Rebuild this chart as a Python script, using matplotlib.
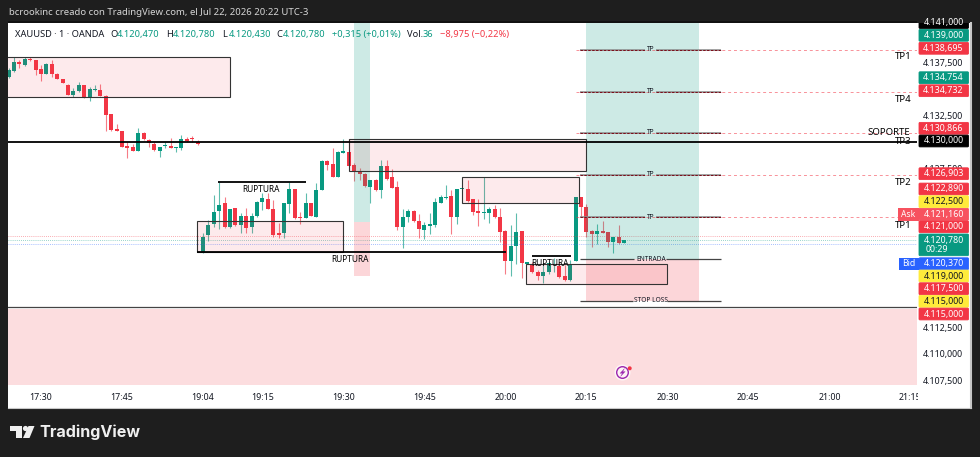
import matplotlib
matplotlib.use("Agg")
import matplotlib.pyplot as plt
from matplotlib.patches import Rectangle, Circle, Polygon, FancyBboxPatch
from matplotlib.ticker import FuncFormatter

plt.rcParams['font.family'] = ['Noto Sans', 'DejaVu Sans']

GREEN = '#089981'
RED = '#f23645'
DARK = '#1e1e1e'
INK = '#131722'

# 1 minute candles, prices quoted relative to the 4130 level
base_price = 4130.0
first_bar = -6
opens = [6.10, 6.73, 7.52, 7.26, 7.80, 7.70, 6.86, 6.45, 7.36, 6.45, 5.91, 5.41, 4.47, 4.78, 5.35, 4.21, 4.91, 4.91,
         4.37, 2.61, 1.19, 1.04, -0.38, -0.50, -0.82, 0.82, 0.22, -0.19, -0.82, -0.38, -0.38, -0.57, -0.53, 0.28, 0.28, 0.03,
         -10.44, -8.81, -7.77, -6.48, -5.79, -8.02, -6.26, -7.83, -6.98, -8.02, -6.98, -5.63, -5.41, -6.32, -8.62, -8.55,
         -5.85, -4.43, -7.04, -7.17, -5.75, -7.04, -4.53, -1.76, -2.08, -3.27, -1.01, -0.97, -2.17, -2.86, -2.99, -4.21,
         -3.58, -4.50, -2.23, -3.30, -4.28, -7.99, -7.11, -6.51, -7.48, -8.30, -7.89, -7.83, -5.72, -5.28, -5.06, -7.11,
         -4.47, -4.43, -5.41, -6.51, -6.73, -6.73, -6.32, -7.11, -8.40, -11.19, -9.81, -8.43, -11.54, -11.54, -12.30,
         -12.64, -12.30, -11.60, -11.70, -12.64, -13.02, -11.19, -5.22, -6.16, -8.40, -8.71, -8.40, -8.52, -9.46, -8.93, -9.53]
closes = [6.79, 7.52, 7.33, 7.80, 7.70, 6.79, 6.45, 7.36, 6.42, 5.97, 5.57, 4.47, 4.78, 5.35, 4.18, 5.03, 5.03, 4.37,
          2.55, 1.13, 1.07, -0.44, -0.53, -0.82, 0.82, 0.25, -0.13, -0.79, -0.44, -0.31, -0.53, -0.50, 0.25, 0.09, 0.25, -0.19,
          -8.93, -7.83, -6.64, -5.91, -8.02, -6.32, -7.83, -6.98, -8.08, -6.98, -5.63, -5.31, -6.29, -8.77, -8.77, -5.79,
          -4.47, -7.20, -7.20, -5.79, -6.98, -4.53, -1.76, -2.17, -3.30, -0.91, -0.94, -2.23, -2.86, -3.02, -4.15, -3.58,
          -4.53, -2.23, -3.49, -4.31, -8.05, -7.04, -6.51, -7.45, -8.24, -7.83, -7.80, -5.63, -5.22, -5.22, -7.11, -4.43,
          -4.43, -5.57, -6.57, -6.73, -6.57, -6.32, -7.11, -8.46, -11.19, -9.81, -8.49, -11.38, -11.29, -12.30, -12.64,
          -12.26, -11.45, -11.54, -12.70, -13.02, -11.54, -5.22, -6.16, -8.46, -8.68, -8.40, -8.55, -9.40, -8.99, -9.56, -9.22]
highs = [6.95, 7.99, 7.74, 7.99, 8.05, 7.74, 7.26, 7.42, 7.74, 6.48, 5.91, 5.47, 5.06, 5.69, 5.38, 5.22, 5.35, 5.47,
         4.47, 2.61, 1.70, 1.07, 0.03, -0.22, 1.29, 0.97, 0.25, 0.03, -0.44, 0.03, 0.35, -0.50, 0.66, 0.50, 0.53, 0.19,
         -8.62, -7.36, -5.00, -3.74, -5.16, -6.29, -6.23, -6.73, -6.26, -6.73, -5.57, -4.84, -4.84, -5.47, -7.61, -5.72,
         -3.74, -4.40, -6.57, -4.84, -5.72, -3.84, -1.70, -1.70, -0.60, -0.82, 0.25, 0.25, -2.01, -2.48, -2.96, -3.58,
         -3.52, -1.70, -1.70, -2.58, -3.68, -6.32, -6.35, -6.42, -6.79, -7.52, -6.73, -5.31, -5.00, -4.06, -4.50, -4.43,
         -4.43, -3.58, -5.41, -5.41, -3.27, -6.16, -5.94, -6.26, -8.33, -7.83, -6.73, -8.40, -11.29, -11.29, -12.08,
         -11.60, -11.19, -10.97, -11.29, -11.60, -11.13, -5.16, -5.16, -5.85, -8.30, -7.74, -7.42, -8.46, -8.93, -7.83, -9.22]
lows = [6.01, 6.64, 6.95, 7.17, 7.67, 6.32, 5.79, 6.42, 6.10, 5.91, 5.53, 4.43, 4.21, 4.72, 4.15, 3.90, 4.84, 4.34,
        1.07, 1.07, 1.04, -0.47, -1.51, -0.85, -0.85, 0.19, -0.50, -0.82, -1.45, -0.60, -0.60, -0.91, -0.75, 0.03, 0.03, -0.28,
        -10.44, -9.31, -8.05, -8.24, -8.14, -8.08, -7.89, -8.55, -8.55, -8.55, -7.04, -6.42, -6.35, -8.99, -9.09, -9.09,
        -6.73, -7.23, -7.74, -7.20, -7.01, -7.11, -4.53, -2.64, -3.33, -3.33, -1.01, -2.26, -3.65, -3.58, -4.21, -5.72,
        -4.59, -5.31, -3.58, -4.37, -8.30, -10.03, -7.52, -7.52, -9.09, -9.18, -8.68, -7.99, -5.79, -5.41, -8.68, -7.74,
        -4.47, -5.63, -6.89, -7.92, -7.30, -7.67, -7.20, -9.40, -12.45, -12.61, -11.51, -12.86, -11.54, -12.33, -13.02,
        -13.33, -12.45, -12.23, -12.86, -13.08, -13.08, -11.19, -7.11, -8.93, -9.94, -9.65, -8.62, -9.94, -10.44, -9.62, -9.57]

# time axis
time_bars = [0, 15, 30, 41, 56, 71, 86, 101, 116, 131, 146, 161]
time_labels = ['17:30', '17:45', '19:04', '19:15', '19:30', '19:45', '20:00', '20:15', '20:30', '20:45', '21:00', '21:15']
price_ticks = [4107.5, 4110, 4112.5, 4127.5, 4132.5, 4137.5]

# drawn levels
tp_levels = [4138.695, 4134.732, 4130.866, 4126.903, 4122.890]
entry_level = 4118.93
stop_level = 4115.0
support_level = 4130.0
lower_zone_top = 4114.43
ask_price = 4121.16
last_price = 4120.78
bid_price = 4120.37

# supply and demand boxes: left bar, right bar, lower price, upper price
box_left = [-8, 28.9, 57.0, 78.0, 89.9]
box_right = [35.0, 56.0, 100.9, 99.6, 116.0]
box_low = [4134.22, 4119.62, 4127.29, 4124.25, 4116.63]
box_high = [4137.99, 4122.55, 4130.28, 4126.73, 4118.49]

# breakout lines: left bar, right bar, price
break_left = [32.8, 28.9, 90.9]
break_right = [49.1, 86.1, 98.1]
break_price = [4126.26, 4119.62, 4119.25]

# price scale tags
tag_texts = ['4.141,000', '4.139,000', '4.138,695', '4.134,754', '4.134,732', '4.130,866', '4.130,000', '4.126,903',
             '4.122,890', '4.122,500', '4.121,160', '4.121,000', '4.120,370', '4.119,000', '4.117,500', '4.115,000', '4.115,000']
tag_colors = ['#000000', GREEN, RED, GREEN, RED, RED, '#000000', RED,
              RED, '#ffeb3b', '#f7525f', RED, '#2962ff', '#ffeb3b', RED, '#ffeb3b', RED]
tag_rows = [22.5, 35.3, 48.3, 77.7, 90.7, 128.3, 141, 173.7, 189, 201.7, 214.3, 226.7, 263.7, 276, 288.7, 301.3, 314]

fig = plt.figure(figsize=(9.8, 4.57), dpi=100, facecolor=DARK)


def px_rect(left, top, right, bottom):
    return [left / 980, 1 - bottom / 457, (right - left) / 980, (bottom - top) / 457]


# white panel behind the chart, the price scale and the time scale
panel = fig.add_axes(px_rect(8, 23, 971, 407.5), zorder=0)
panel.set_facecolor('white')
panel.set_xticks([])
panel.set_yticks([])
for s in panel.spines.values():
    s.set_visible(False)
panel.spines['right'].set_visible(True)
panel.spines['right'].set_color('#c8c8c8')
panel.spines['right'].set_linewidth(1.5)
panel.spines['bottom'].set_visible(True)
panel.spines['bottom'].set_color('#c8c8c8')

ax = fig.add_axes(px_rect(8, 23, 917, 385), zorder=1)
ax.set_facecolor('white')
ax.set_xlim((8 - 41) / 5.4, (917 - 41) / 5.4)
ax.set_ylim(base_price - (385 - 142) / 10.6, base_price + (142 - 23) / 10.6)
for s in ax.spines.values():
    s.set_visible(False)

ax.yaxis.tick_right()
ax.set_yticks(price_ticks)
ax.yaxis.set_major_formatter(FuncFormatter(lambda v, pos: f"4.{v - 4000:07.3f}".replace('.', ',').replace('4,', '4.', 1)))
ax.tick_params(axis='y', length=0, pad=4.5, labelsize=6.4, labelcolor=INK)
ax.set_xticks(time_bars)
ax.set_xticklabels(time_labels)
ax.tick_params(axis='x', length=0, pad=5.5, labelsize=6.4, labelcolor=INK)

# candles
for i in range(len(opens)):
    bar = first_bar + i
    up = closes[i] >= opens[i]
    col = GREEN if up else RED
    ax.vlines(bar, base_price + lows[i], base_price + highs[i], color=col, lw=0.8, alpha=0.65, zorder=2)
    low_edge = base_price + min(opens[i], closes[i])
    height = max(abs(closes[i] - opens[i]), 0.12)
    ax.bar(bar, height, bottom=low_edge, width=0.76, color=col, linewidth=0, zorder=3)

# live price lines
ax.axhline(ask_price, color=RED, lw=0.6, ls=(0, (1, 1.5)), alpha=0.55, zorder=4)
ax.axhline(last_price, color=GREEN, lw=0.6, ls=(0, (1, 1.5)), alpha=0.55, zorder=4)
ax.axhline(bid_price, color='#2962ff', lw=0.6, ls=(0, (1, 1.5)), alpha=0.55, zorder=4)

# long position blocks
top_price = ax.get_ylim()[1]
ax.add_patch(Rectangle((58.0, 4122.48), 3.0, top_price - 4122.48, color=GREEN, alpha=0.2, lw=0, zorder=5))
ax.add_patch(Rectangle((58.0, 4117.38), 3.0, 5.10, color=RED, alpha=0.2, lw=0, zorder=5))
ax.add_patch(Rectangle((100.9, entry_level), 20.9, top_price - entry_level, color=GREEN, alpha=0.2, lw=0, zorder=5))
ax.add_patch(Rectangle((100.9, stop_level), 20.9, entry_level - stop_level, color=RED, alpha=0.2, lw=0, zorder=5))

# boxes
for i in range(len(box_left)):
    ax.add_patch(Rectangle((box_left[i], box_low[i]), box_right[i] - box_left[i], box_high[i] - box_low[i],
                           facecolor=RED, alpha=0.1, lw=0, zorder=5))
    ax.add_patch(Rectangle((box_left[i], box_low[i]), box_right[i] - box_left[i], box_high[i] - box_low[i],
                           facecolor='none', edgecolor='#333333', lw=0.8, zorder=6))

# lower zone
ax.add_patch(Rectangle((first_bar - 2, ax.get_ylim()[0]), 180, lower_zone_top - 0.2 - ax.get_ylim()[0],
                       color=RED, alpha=0.17, lw=0, zorder=5))
ax.axhline(lower_zone_top, color='#444444', lw=0.9, zorder=6)

# support and breakout lines
ax.axhline(support_level, color='black', lw=1.3, zorder=6)
ax.hlines(break_price, break_left, break_right, color='black', lw=1.3, zorder=6)

# take profit lines, broken around their TP label
for lvl in tp_levels:
    ax.hlines(lvl, 99.0, 162.5, color=RED, lw=0.7, ls=(0, (3, 3)), alpha=0.55, zorder=6)
    for start, stop in [(99.8, 111.8), (113.8, 126.0)]:
        ax.hlines(lvl, start, stop, color='#8a8a8a', lw=1.1, zorder=7)
        ax.hlines(lvl, start, stop, color='#7a0c18', lw=0.7, ls=(0, (2.5, 1.5)), zorder=7)
    ax.text(113, lvl, 'TP', fontsize=4.8, color=INK, ha='center', va='center', zorder=8)

for lvl, label, gap in [(entry_level, 'ENTRADA', (109.9, 115.7)), (stop_level, 'STOP LOSS', (109.6, 116.0))]:
    ax.hlines(lvl, 99.8, gap[0], color='#444444', lw=0.9, zorder=7)
    ax.hlines(lvl, gap[1], 126.0, color='#444444', lw=0.9, zorder=7)
    ax.text(113, lvl, label, fontsize=4.8, color=INK, ha='center', va='center', zorder=8)

# overlay in figure pixels for the header, labels and price tags
top = fig.add_axes([0, 0, 1, 1], zorder=2)
top.set_xlim(0, 980)
top.set_ylim(457, 0)
top.axis('off')
top.patch.set_alpha(0)

# header bar
top.text(8.5, 12.5, 'bcrookinc creado con TradingView.com, el Jul 22, 2026 20:22 UTC-3',
         fontsize=6.9, color='#d6d6d6', va='center', ha='left')
top.add_patch(Rectangle((8, 21), 909, 2.2, color='#111111', lw=0))

# symbol legend
top.text(15, 34.5, 'XAUUSD · 1 · OANDA', fontsize=6.7, color=INK, va='center')
for x_pos, letter, value in [(110, 'O', '4.120,470'), (166, 'H', '4.120,780'), (222, 'L', '4.120,430'), (276, 'C', '4.120,780')]:
    top.text(x_pos, 34.5, letter, fontsize=6.7, color=INK, va='center')
    top.text(x_pos + 7, 34.5, value, fontsize=6.7, color=GREEN, va='center')
top.text(331.5, 34.5, '+0,315 (+0,01%)', fontsize=6.7, color=GREEN, va='center')
top.text(407, 34.5, 'Vol.', fontsize=6.7, color=INK, va='center')
top.text(423, 34.5, '36', fontsize=6.7, color=GREEN, va='center')
top.text(440, 34.5, '−8,975 (−0,22%)', fontsize=6.7, color=RED, va='center')

# hand written labels
for x_pos, y_pos, label in [(261, 189, 'RUPTURA'), (350, 259.7, 'RUPTURA'), (550, 263.5, 'RUPTURA')]:
    top.text(x_pos, y_pos, label, fontsize=6.0, color='black', ha='center', va='center', zorder=6, fontweight='bold')
for x_pos, y_pos, label in [(903, 56.7, 'TP1'), (903, 99, 'TP4'), (889, 132.7, 'SOPORTE'), (903, 141, 'TP3'),
                            (903, 182.5, 'TP2'), (903, 225.7, 'TP1')]:
    top.text(x_pos, y_pos, label, fontsize=6.9, color='black', ha='center', va='center', zorder=6)

# end of the time scale runs under the price scale
top.add_patch(Rectangle((917.5, 386), 8, 21, color='white', lw=0))

# price tags
for txt, col, row in zip(tag_texts, tag_colors, tag_rows):
    box = FancyBboxPatch((919, row - 5.9), 49.5, 11.8, boxstyle='round,pad=0,rounding_size=1', fc=col, ec=col, lw=0.6, zorder=3)
    top.add_patch(box)
    t_col = INK if col == '#ffeb3b' else 'white'
    t = top.text(943.5, row, txt, fontsize=6.4, color=t_col, ha='center', va='center', zorder=4)
    if row < 23:
        box.set_clip_path(Rectangle((900, 23), 80, 30, transform=top.transData))
        t.set_clip_path(Rectangle((900, 23), 80, 30, transform=top.transData))

# countdown tag under the last price
top.add_patch(FancyBboxPatch((919, 234), 49.5, 21.7, boxstyle='round,pad=0,rounding_size=1', fc=GREEN, ec=GREEN, lw=0.6, zorder=3))
top.text(943.5, 240, '4.120,780', fontsize=6.4, color='white', ha='center', va='center', zorder=4)
top.text(925.5, 249.5, '00:29', fontsize=6.4, color='white', ha='left', va='center', zorder=4)

# ask and bid flags
top.add_patch(Rectangle((898, 208), 20.5, 12.6, color='#f7525f', lw=0, zorder=3))
top.text(908, 214.3, 'Ask', fontsize=6.2, color='white', ha='center', va='center', zorder=4)
top.add_patch(Rectangle((899, 257.5), 19.5, 12.6, color='#2962ff', lw=0, zorder=3))
top.text(908.5, 263.7, 'Bid', fontsize=6.2, color='white', ha='center', va='center', zorder=4)

# alert badge
top.add_patch(Circle((622.5, 372.5), 8, color='white', alpha=0.7, lw=0, zorder=3))
top.add_patch(Circle((622.5, 372.5), 5.8, fc='none', ec='#9c27b0', lw=1.0, zorder=4))
top.add_patch(Polygon([(624.5, 368.5), (620, 373.3), (622.5, 373.3), (620.5, 376.5), (625.2, 371.6), (622.7, 371.6)],
                      closed=True, color='#9c27b0', lw=0.2, zorder=5))
top.add_patch(Circle((629.7, 368.3), 2.0, color=RED, lw=0, zorder=6))

# footer logo
top.add_patch(Polygon([(9.5, 426), (21.5, 426), (21.5, 438), (15.5, 438), (15.5, 431), (9.5, 431)], closed=True, color='#f0f0f0', lw=0))
top.add_patch(Circle((25.5, 428.5), 2.6, color='#f0f0f0', lw=0))
top.add_patch(Polygon([(28.5, 426), (34.5, 426), (29.5, 438), (23, 438)], closed=True, color='#f0f0f0', lw=0))
top.text(39.5, 432.5, 'TradingView', fontsize=11.6, color='#f0f0f0', ha='left', va='center', family=['Inter', 'DejaVu Sans'], fontweight='bold')

fig.savefig('out.png', dpi=100, facecolor=fig.get_facecolor())
